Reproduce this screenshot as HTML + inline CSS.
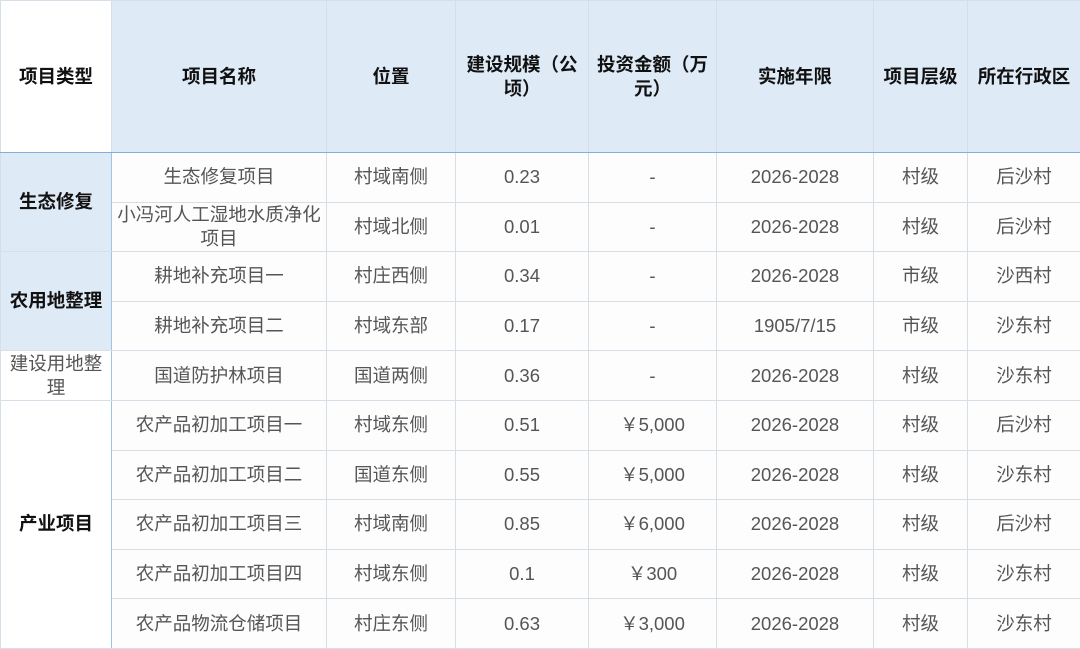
<!DOCTYPE html>
<html><head><meta charset="utf-8"><style>
body{margin:0;width:1080px;height:648px;background:#fff;overflow:hidden;font-family:"Liberation Sans","Noto Sans CJK SC",sans-serif;}
table{border-collapse:collapse;table-layout:fixed;position:absolute;left:0;top:0;width:1080px;}
td{border:1px solid #d6dfe8;text-align:center;vertical-align:middle;padding:0;font-size:18.5px;color:#555;line-height:24px;background:#fdfdfd;white-space:nowrap;overflow:hidden;}
tr.h td{height:151px;background:#deeaf6;color:#111;font-weight:bold;border-bottom:1.5px solid #7fb0dc;}
tr.h td:first-child{background:#fff;}
tr.r td{height:48.6px;}
td.c{font-weight:bold;color:#111;border-right:1.5px solid #9fc3e3;}
td.b{background:#deeaf6;}
td.w{background:#fff;}
</style></head><body>
<table>
<colgroup><col style="width:111px"><col style="width:215px"><col style="width:129px"><col style="width:133px"><col style="width:128px"><col style="width:157px"><col style="width:94px"><col style="width:113px"></colgroup>
<tr class="h"><td>项目类型</td><td>项目名称</td><td>位置</td><td>建设规模（公<br>顷）</td><td>投资金额（万<br>元）</td><td>实施年限</td><td>项目层级</td><td>所在行政区</td></tr>
<tr class="r"><td class="c b" rowspan="2">生态修复</td><td>生态修复项目</td><td>村域南侧</td><td>0.23</td><td>-</td><td>2026-2028</td><td>村级</td><td>后沙村</td></tr>
<tr class="r"><td>小冯河人工湿地水质净化<br>项目</td><td>村域北侧</td><td>0.01</td><td>-</td><td>2026-2028</td><td>村级</td><td>后沙村</td></tr>
<tr class="r"><td class="c b" rowspan="2">农用地整理</td><td>耕地补充项目一</td><td>村庄西侧</td><td>0.34</td><td>-</td><td>2026-2028</td><td>市级</td><td>沙西村</td></tr>
<tr class="r"><td>耕地补充项目二</td><td>村域东部</td><td>0.17</td><td>-</td><td>1905/7/15</td><td>市级</td><td>沙东村</td></tr>
<tr class="r"><td class="w" style="border-right:1.5px solid #9fc3e3">建设用地整<br>理</td><td>国道防护林项目</td><td>国道两侧</td><td>0.36</td><td>-</td><td>2026-2028</td><td>村级</td><td>沙东村</td></tr>
<tr class="r"><td class="c w" rowspan="5">产业项目</td><td>农产品初加工项目一</td><td>村域东侧</td><td>0.51</td><td>￥5,000</td><td>2026-2028</td><td>村级</td><td>后沙村</td></tr>
<tr class="r"><td>农产品初加工项目二</td><td>国道东侧</td><td>0.55</td><td>￥5,000</td><td>2026-2028</td><td>村级</td><td>沙东村</td></tr>
<tr class="r"><td>农产品初加工项目三</td><td>村域南侧</td><td>0.85</td><td>￥6,000</td><td>2026-2028</td><td>村级</td><td>后沙村</td></tr>
<tr class="r"><td>农产品初加工项目四</td><td>村域东侧</td><td>0.1</td><td>￥300</td><td>2026-2028</td><td>村级</td><td>沙东村</td></tr>
<tr class="r"><td>农产品物流仓储项目</td><td>村庄东侧</td><td>0.63</td><td>￥3,000</td><td>2026-2028</td><td>村级</td><td>沙东村</td></tr>
</table>
</body></html>
